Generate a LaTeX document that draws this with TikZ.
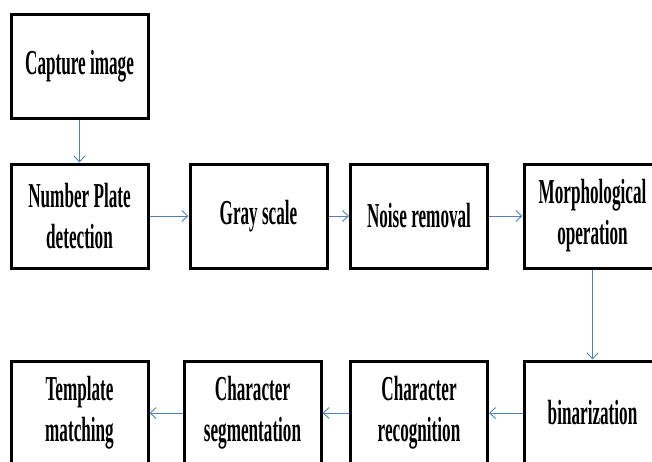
\documentclass[tikz,border=0pt]{standalone}
\usepackage{fontspec}
\setmainfont{Liberation Serif}[FakeStretch=0.49]
\usetikzlibrary{arrows.meta}
\definecolor{arrblue}{RGB}{79,129,189}
\tikzset{
  stepbox/.style={draw=black, line width=3pt, fill=white, minimum width=137pt, minimum height=104pt,
    inner sep=0pt, align=center, font=\fontsize{35}{41}\selectfont\bfseries},
  flow/.style={draw=arrblue, line width=0.9pt, -{Straight Barb[length=6pt,width=11pt,line width=0.9pt]}}
}
\begin{document}
\begin{tikzpicture}[x=1pt,y=-1pt]
\clip (0,0) rectangle (652,461);
\fill[white] (0,0) rectangle (652,461);
\node[stepbox] (cap) at (79.5,66) {Capture image};
\node[stepbox] (npd) at (79.5,216) {Number Plate\\detection};
\node[stepbox] (gray) at (258.5,216) {Gray scale};
\node[stepbox] (noise) at (419,216) {Noise removal};
\node[stepbox] (morph) at (592.5,216) {Morphological\\operation};
\node[stepbox] (bin) at (592.5,413) {binarization};
\node[stepbox] (crec) at (419,413) {Character\\recognition};
\node[stepbox] (cseg) at (252.5,413) {Character\\segmentation};
\node[stepbox] (tmpl) at (79.5,413) {Template\\matching};
\draw[flow] (cap) -- (npd);
\draw[flow] (npd) -- (gray);
\draw[flow] (gray) -- (noise);
\draw[flow] (noise) -- (morph);
\draw[flow] (morph) -- (bin);
\draw[flow] (bin) -- (crec);
\draw[flow] (crec) -- (cseg);
\draw[flow] (cseg) -- (tmpl);
\end{tikzpicture}
\end{document}
